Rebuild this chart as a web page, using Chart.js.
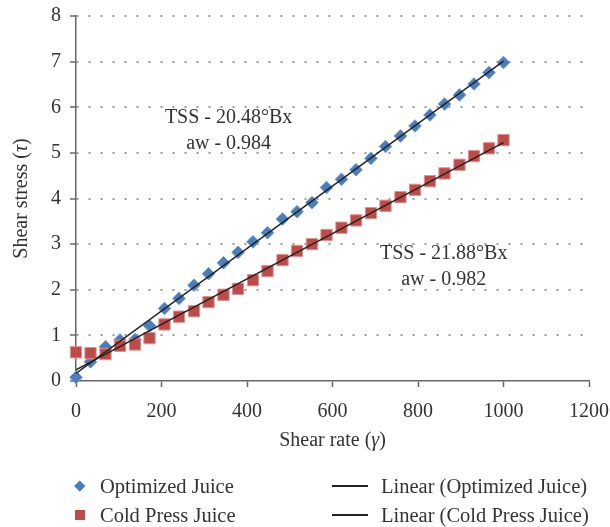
<!DOCTYPE html>
<html>
<head>
<meta charset="utf-8">
<title>Shear stress vs shear rate</title>
<script src="https://cdn.jsdelivr.net/npm/chart.js@4.4.1/dist/chart.umd.min.js"></script>
<style>
    body { margin: 0; background: #fff; }
    #wrap { position: relative; width: 610px; height: 527px; }
    #legend { position: absolute; left: 0; top: 0; width: 610px; height: 527px; pointer-events: none;
              font-family: 'Liberation Serif', 'Times New Roman', serif; font-size: 20.5px; color: #333; }
    #legend .item { position: absolute; display: flex; align-items: center; height: 28px; white-space: nowrap; }
    #legend .sw { display: inline-flex; align-items: center; justify-content: center; }
    #legend .mark { width: 20px; height: 28px; margin-right: 10px; }
    #legend .line { width: 36px; height: 28px; margin-right: 13px; }
    #legend .diamond { width: 7.5px; height: 7.5px; transform: rotate(45deg); }
    #legend .square { width: 10px; height: 10px; }
    #legend .stroke { width: 36px; height: 1.5px; background: #222; }
</style>
</head>
<body>
<div id="wrap">
    <canvas id="flowChart" width="610" height="527"></canvas>
    <div id="legend"></div>
</div>
<script>
// shear rate (1/s) and measured shear stress (Pa)
var shearRate = [0, 34, 69, 103, 138, 172, 207, 241, 276, 310, 345, 379, 414, 448, 483,
                 517, 552, 586, 621, 655, 690, 724, 759, 793, 828, 862, 897, 931, 966, 1000];
var optimizedJuice = [0.08, 0.42, 0.75, 0.90, 0.91, 1.21, 1.59, 1.81, 2.10, 2.35, 2.59, 2.82, 3.05, 3.25, 3.55,
                      3.71, 3.91, 4.24, 4.42, 4.63, 4.88, 5.14, 5.37, 5.59, 5.83, 6.07, 6.27, 6.51, 6.76, 6.98];
var coldPressJuice = [0.63, 0.61, 0.59, 0.77, 0.80, 0.94, 1.24, 1.41, 1.53, 1.73, 1.89, 2.02, 2.21, 2.41, 2.65,
                      2.85, 3.00, 3.20, 3.36, 3.52, 3.68, 3.84, 4.03, 4.19, 4.38, 4.55, 4.74, 4.93, 5.10, 5.28];
var xTicks = [0, 200, 400, 600, 800, 1000, 1200];
var yTicks = [0, 1, 2, 3, 4, 5, 6, 7, 8];

var notes = [
    { x: 357, y: 5.76, lines: ['TSS - 20.48°Bx', 'aw - 0.984'] },
    { x: 860, y: 2.80, lines: ['TSS - 21.88°Bx', 'aw - 0.982'] }
];

var FONT = "'Liberation Serif', 'Times New Roman', serif";
var TEXT = '#333';

function toPoints(xs, ys) {
    return xs.map(function(x, i){ return { x: x, y: ys[i] }; });
}

// least squares line over the same x range as the data
function trend(xs, ys) {
    var n = xs.length, sx = 0, sy = 0, sxx = 0, sxy = 0;
    for (var i = 0; i < n; i++) {
        sx += xs[i]; sy += ys[i]; sxx += xs[i] * xs[i]; sxy += xs[i] * ys[i];
    }
    var m = (n * sxy - sx * sy) / (n * sxx - sx * sx);
    var b = (sy - m * sx) / n;
    var x0 = xs[0], x1 = xs[n - 1];
    return [{ x: x0, y: m * x0 + b }, { x: x1, y: m * x1 + b }];
}

// text runs with italic greek symbols, centred on (x, y)
function drawRuns(ctx, runs, x, y) {
    var widths = [], total = 0;
    runs.forEach(function(r){
        ctx.font = (r[1] ? 'italic ' : '') + '20px ' + FONT;
        var w = ctx.measureText(r[0]).width;
        widths.push(w); total += w;
    });
    var cx = x - total / 2;
    runs.forEach(function(r, i){
        ctx.font = (r[1] ? 'italic ' : '') + '20px ' + FONT;
        ctx.fillText(r[0], cx, y);
        cx += widths[i];
    });
}

var textPlugin = {
    id: 'textPlugin',
    afterDraw: function(chart) {
        var ctx = chart.ctx, area = chart.chartArea;
        var xs = chart.scales.x, ys = chart.scales.y;
        ctx.save();
        ctx.fillStyle = TEXT;
        ctx.textBaseline = 'middle';

        // axis titles
        ctx.textAlign = 'left';
        drawRuns(ctx, [['Shear rate (', false], ['γ', true], [')', false]],
                 (area.left + area.right) / 2, area.bottom + 60);
        ctx.save();
        ctx.translate(area.left - 54, (area.top + area.bottom) / 2);
        ctx.rotate(-Math.PI / 2);
        drawRuns(ctx, [['Shear stress (', false], ['τ', true], [')', false]], 0, 0);
        ctx.restore();

        // TSS / water activity notes
        ctx.font = '20px ' + FONT;
        ctx.textAlign = 'center';
        notes.forEach(function(n){
            var px = xs.getPixelForValue(n.x), py = ys.getPixelForValue(n.y);
            n.lines.forEach(function(t, i){ ctx.fillText(t, px, py + i * 26); });
        });
        ctx.restore();
    }
};

var chart = new Chart(document.getElementById('flowChart'), {
    type: 'scatter',
    data: {
        datasets: [
            {
                label: 'Optimized Juice',
                data: toPoints(shearRate, optimizedJuice),
                pointStyle: 'rectRot',
                pointRadius: 6.3,
                pointHoverRadius: 6.3,
                backgroundColor: '#4A7EBB',
                borderColor: '#6F95C9',
                borderWidth: 1,
                clip: false,
                order: 2
            },
            {
                label: 'Linear (Optimized Juice)',
                data: trend(shearRate, optimizedJuice),
                showLine: true,
                pointRadius: 0,
                borderColor: '#222',
                borderWidth: 1.5,
                order: 0
            },
            {
                label: 'Cold Press Juice',
                data: toPoints(shearRate, coldPressJuice),
                pointStyle: 'rect',
                pointRadius: 8,
                pointHoverRadius: 8,
                backgroundColor: '#BE4B48',
                borderColor: '#D99694',
                borderWidth: 1,
                clip: false,
                order: 1
            },
            {
                label: 'Linear (Cold Press Juice)',
                data: trend(shearRate, coldPressJuice),
                showLine: true,
                pointRadius: 0,
                borderColor: '#222',
                borderWidth: 1.5,
                order: 0
            }
        ]
    },
    options: {
        responsive: false,
        animation: false,
        layout: { padding: { top: 16, right: 21, bottom: 71, left: 0 } },
        plugins: {
            legend: { display: false },
            tooltip: { enabled: false }
        },
        scales: {
            x: {
                type: 'linear',
                min: xTicks[0],
                max: xTicks[xTicks.length - 1],
                afterFit: function(s){ s.height = 75; s.paddingLeft = 0; s.paddingRight = 0; },
                afterBuildTicks: function(s){ s.ticks = xTicks.map(function(v){ return { value: v }; }); },
                ticks: {
                    padding: 13,
                    color: TEXT,
                    font: { family: FONT, size: 20 },
                    callback: function(v){ return String(v); }
                },
                grid: { drawOnChartArea: false, tickLength: 6, tickColor: '#666', tickWidth: 1.5 },
                border: { color: '#666', width: 1.5 }
            },
            y: {
                min: yTicks[0],
                max: yTicks[yTicks.length - 1],
                afterFit: function(s){ s.width = 76; s.paddingTop = 0; s.paddingBottom = 0; },
                afterBuildTicks: function(s){ s.ticks = yTicks.map(function(v){ return { value: v }; }); },
                ticks: {
                    padding: 9,
                    color: TEXT,
                    font: { family: FONT, size: 20 },
                    callback: function(v){ return String(v); }
                },
                grid: {
                    color: function(c){ return c.tick && c.tick.value === 0 ? 'rgba(0,0,0,0)' : '#9a9a9a'; },
                    lineWidth: 2,
                    tickLength: 6,
                    tickColor: '#666',
                    tickWidth: 1.5
                },
                border: { color: '#666', width: 1.5, dash: [2, 10] }
            }
        }
    },
    plugins: [textPlugin]
});

// two-column legend under the plot
var legendCols = [70, 332];
var legendRows = [472, 501];
var legendHtml = '';
chart.data.datasets.forEach(function(ds, i){
    var left = legendCols[i % 2], top = legendRows[Math.floor(i / 2)];
    var sw;
    if (ds.showLine) {
        sw = '<span class="sw line"><span class="stroke"></span></span>';
    } else {
        var shape = ds.pointStyle === 'rectRot' ? 'diamond' : 'square';
        sw = '<span class="sw mark"><span class="' + shape + '" style="background:' + ds.backgroundColor + '"></span></span>';
    }
    legendHtml += '<div class="item" style="left:' + left + 'px;top:' + top + 'px">' + sw + '<span>' + ds.label + '</span></div>';
});
document.getElementById('legend').innerHTML = legendHtml;
</script>
</body>
</html>
